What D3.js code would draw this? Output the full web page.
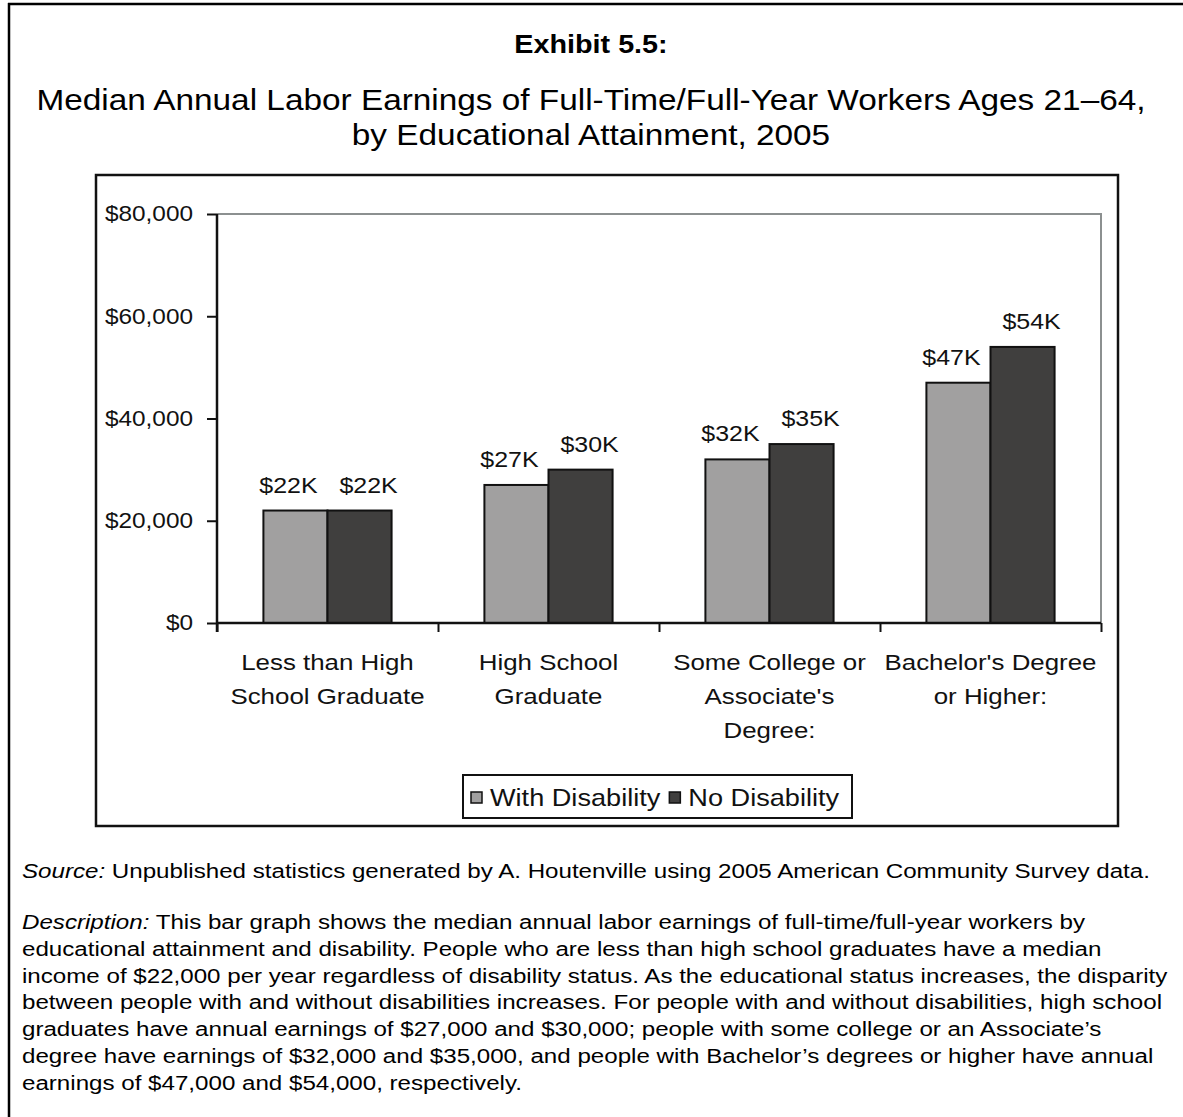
<!DOCTYPE html>
<html>
<head>
<meta charset="utf-8">
<script src="https://cdn.jsdelivr.net/npm/d3@7"></script>
<style>
  html, body { margin: 0; padding: 0; background: #fff; }
  svg { display: block; font-family: "Liberation Sans", Arial, sans-serif; }
</style>
</head>
<body>
<svg id="chart" width="1183" height="1117"></svg>
<script>
const categories = [
  ["Less than High", "School Graduate"],
  ["High School", "Graduate"],
  ["Some College or", "Associate's", "Degree:"],
  ["Bachelor's Degree", "or Higher:"]
];
const seriesNames = ["With Disability", "No Disability"];
const withDisability = [22000, 27000, 32000, 47000];
const noDisability   = [22000, 30000, 35000, 54000];
const valueLabels = [
  ["$22K", "$27K", "$32K", "$47K"],
  ["$22K", "$30K", "$35K", "$54K"]
];
const yTicks = [0, 20000, 40000, 60000, 80000];
const seriesColors = ["#a1a0a0", "#403f3e"];

const K = 1.15; // horizontal glyph stretch seen in the reference
function stretch(sel) {
  sel.each(function () {
    const ax = +this.getAttribute("x") || 0;
    this.setAttribute("transform", `translate(${ax},0) scale(${K},1) translate(${-ax},0)`);
  });
  return sel;
}

const svg = d3.select("#chart");

// outer frame (top & left)
svg.append("line").attr("x1", 8).attr("x2", 1183).attr("y1", 4).attr("y2", 4)
  .attr("stroke", "#000").attr("stroke-width", 2.5);
svg.append("line").attr("x1", 9).attr("x2", 9).attr("y1", 3).attr("y2", 1117)
  .attr("stroke", "#000").attr("stroke-width", 2.5);

// titles
stretch(svg.append("text").attr("x", 591).attr("y", 53).attr("text-anchor", "middle")
  .attr("font-size", 25).attr("font-weight", "bold").text("Exhibit 5.5:"));
stretch(svg.append("text").attr("x", 591).attr("y", 110).attr("text-anchor", "middle")
  .attr("font-size", 29).text("Median Annual Labor Earnings of Full-Time/Full-Year Workers Ages 21\u201364,"));
stretch(svg.append("text").attr("x", 591).attr("y", 145).attr("text-anchor", "middle")
  .attr("font-size", 29).text("by Educational Attainment, 2005"));

// chart box
svg.append("rect").attr("x", 96).attr("y", 175).attr("width", 1022).attr("height", 651)
  .attr("fill", "#fff").attr("stroke", "#111").attr("stroke-width", 2.5);

const plot = { left: 217, right: 1101, top: 214, bottom: 623 };

const x0 = d3.scaleBand().domain(d3.range(categories.length))
  .range([plot.left, plot.right]).paddingInner(0.42).paddingOuter(0.21);
const x1 = d3.scaleBand().domain(d3.range(seriesNames.length))
  .range([0, x0.bandwidth()]);
const y = d3.scaleLinear().domain([0, 80000]).range([plot.bottom, plot.top]);

// plot area border (gray top & right)
svg.append("path")
  .attr("d", `M${plot.left},${plot.top}H${plot.right}V${plot.bottom}`)
  .attr("fill", "none").attr("stroke", "#8c9090").attr("stroke-width", 2);

// bars
const series = [withDisability, noDisability];
const g = svg.append("g");
series.forEach((vals, si) => {
  g.selectAll(null).data(vals).enter().append("rect")
    .attr("x", (d, i) => x0(i) + x1(si))
    .attr("y", d => y(d))
    .attr("width", x1.bandwidth())
    .attr("height", d => y(0) - y(d))
    .attr("fill", seriesColors[si])
    .attr("stroke", "#111").attr("stroke-width", 2);
});

// value labels
const labelShift = [-7, 9];
series.forEach((vals, si) => {
  stretch(g.selectAll(null).data(vals).enter().append("text")
    .attr("x", (d, i) => x0(i) + x1(si) + x1.bandwidth() / 2 + labelShift[si])
    .attr("y", d => y(d) - 18)
    .attr("text-anchor", "middle")
    .attr("font-size", 21.7).attr("fill", "#111")
    .text((d, i) => valueLabels[si][i]));
});

// y axis
const yAxis = d3.axisLeft(y).tickValues(yTicks).tickSize(10).tickPadding(14)
  .tickFormat(d => "$" + d3.format(",")(d));
const ya = svg.append("g").attr("transform", `translate(${plot.left},0)`).call(yAxis);
ya.select(".domain").attr("stroke", "#111").attr("stroke-width", 2.5)
  .attr("d", `M0,${plot.top}V${plot.bottom + 9}`);
ya.selectAll(".tick line").attr("stroke", "#111").attr("stroke-width", 2);
stretch(ya.selectAll(".tick text").attr("font-size", 21.2).attr("fill", "#111")
  .attr("font-family", "Liberation Sans, Arial, sans-serif"));

// x axis
const xAxisScale = d3.scaleLinear().domain([0, categories.length]).range([plot.left, plot.right]);
const xAxis = d3.axisBottom(xAxisScale).tickValues(d3.range(categories.length + 1))
  .tickSize(9).tickFormat("");
const xa = svg.append("g").attr("transform", `translate(0,${plot.bottom})`).call(xAxis);
xa.select(".domain").attr("stroke", "#111").attr("stroke-width", 2.5)
  .attr("d", `M${plot.left},0H${plot.right}`);
xa.selectAll(".tick line").attr("stroke", "#111").attr("stroke-width", 2);

// category labels
categories.forEach((lines, i) => {
  const cx = x0(i) + x0.bandwidth() / 2;
  lines.forEach((ln, j) => {
    stretch(svg.append("text").attr("text-anchor", "middle")
      .attr("font-size", 22.5).attr("fill", "#111")
      .attr("x", cx).attr("y", 670 + j * 34).text(ln));
  });
});

// legend
const legend = svg.append("g");
legend.append("rect").attr("x", 463).attr("y", 775).attr("width", 389).attr("height", 43)
  .attr("fill", "#fff").attr("stroke", "#111").attr("stroke-width", 2);
let lx = 471;
seriesNames.forEach((name, si) => {
  legend.append("rect").attr("x", lx).attr("y", 792).attr("width", 11).attr("height", 11)
    .attr("fill", seriesColors[si]).attr("stroke", "#111").attr("stroke-width", 1.5);
  const t = legend.append("text").attr("x", lx + 19).attr("y", 806)
    .attr("font-size", 23.6).attr("fill", "#111").text(name);
  stretch(t);
  lx = lx + 19 + t.node().getComputedTextLength() * K + 9;
});

// source & description
const notes = svg.append("g").attr("font-size", 21).attr("fill", "#000");
const src = notes.append("text").attr("x", 22).attr("y", 878);
src.append("tspan").attr("font-style", "italic").text("Source:");
src.append("tspan").text(" Unpublished statistics generated by A. Houtenville using 2005 American Community Survey data.");
stretch(src);

const descLines = [
  [["Description:", true], [" This bar graph shows the median annual labor earnings of full-time/full-year workers by", false]],
  [["educational attainment and disability. People who are less than high school graduates have a median", false]],
  [["income of $22,000 per year regardless of disability status. As the educational status increases, the disparity", false]],
  [["between people with and without disabilities increases. For people with and without disabilities, high school", false]],
  [["graduates have annual earnings of $27,000 and $30,000; people with some college or an Associate\u2019s", false]],
  [["degree have earnings of $32,000 and $35,000, and people with Bachelor\u2019s degrees or higher have annual", false]],
  [["earnings of $47,000 and $54,000, respectively.", false]]
];
descLines.forEach((parts, i) => {
  const t = notes.append("text").attr("x", 22).attr("y", 929 + i * 26.8);
  parts.forEach(([s, it]) => {
    const ts = t.append("tspan").text(s);
    if (it) ts.attr("font-style", "italic");
  });
  stretch(t);
});
</script>
</body>
</html>
